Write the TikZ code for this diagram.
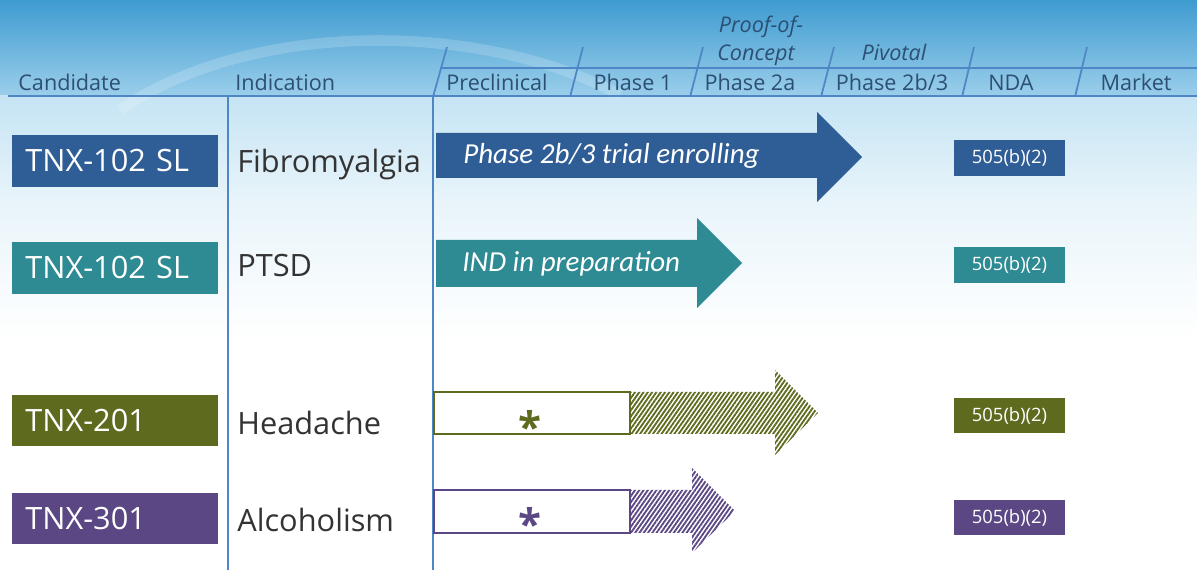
\documentclass[tikz,border=0pt]{standalone}
\usepackage{fontspec}
\setmainfont{Open Sans}
\newfontfamily\arrowfont{Carlito}
\usetikzlibrary{patterns.meta}
\definecolor{cblue}{HTML}{2F5D96}
\definecolor{cteal}{HTML}{2E8A93}
\definecolor{colive}{HTML}{5E6B1E}
\definecolor{cpurple}{HTML}{5B4784}
\definecolor{lineblue}{HTML}{4F86C6}
\definecolor{headtxt}{HTML}{2C4F73}
\definecolor{indtxt}{HTML}{333333}
\definecolor{bgtop}{HTML}{3E9BD0}
\definecolor{bgband}{HTML}{9CCFEB}
\definecolor{bglight}{HTML}{C5E4F4}
\definecolor{bgpale}{HTML}{E8F4FA}
\begin{document}
\begin{tikzpicture}[x=0.02cm,y=-0.02cm,
  hline/.style={draw=lineblue,line width=1.7pt},
  vline/.style={draw=lineblue,line width=1.2pt},
  slash/.style={draw=lineblue,line width=1pt},
  headlbl/.style={text=headtxt,font=\fontsize{12.3}{14}\selectfont,inner sep=0pt,anchor=base},
  headit/.style={headlbl,font=\fontsize{12.3}{14}\selectfont\itshape},
  cand/.style={fill=#1,text=white,font=\fontsize{17.5}{20}\selectfont,
    minimum width=4.12cm,minimum height=1.04cm,inner xsep=0.26cm,inner ysep=0pt,
    text width=3.6cm,align=left,anchor=west},
  ind/.style={text=indtxt,font=\fontsize{17.5}{20}\selectfont,inner sep=0pt,anchor=base west},
  arrowlbl/.style={text=white,font=\arrowfont\itshape\fontsize{16.5}{19}\selectfont,inner sep=0pt,anchor=west},
  nda/.style={fill=#1,text=white,font=\fontsize{10.5}{12}\selectfont,
    minimum width=2.22cm,minimum height=0.72cm,inner sep=0pt},
  star/.style={text=#1,font=\fontsize{24}{26}\selectfont\bfseries,inner sep=0pt},
  openbox/.style={draw=#1,line width=1.6pt,fill=white},
  hatch/.style={pattern={Lines[angle=55,distance=2pt,line width=1.05pt]},pattern color=#1}
]
\useasboundingbox (0,0) rectangle (1197,570);
% background
\fill[top color=bgtop,bottom color=bgband] (0,0) rectangle (1197,97);
\fill[top color=bglight,bottom color=bgpale] (0,96) rectangle (1197,200);
\fill[top color=bgpale,bottom color=white] (0,199) rectangle (1197,340);
\fill[white] (0,339) rectangle (1197,570);
\draw[white,opacity=0.18,line width=6pt] (120,110) .. controls (250,20) and (480,20) .. (620,95);

% header lines
\coordinate (hl0) at (8,96);
\coordinate (hl1) at (1197,96);
\coordinate (ul0) at (440,68);
\coordinate (ul1) at (1197,68);
\draw[hline] (hl0) -- (hl1);
\draw[slash] (ul0) -- (ul1);
\foreach \b/\t [count=\i] in {433/447,570/583,690/703,821/834,962/974,1075/1087}{
  \coordinate (sb\i) at (\b,97);
  \coordinate (st\i) at (\t,47);
  \draw[slash] (sb\i) -- (st\i);
}
% vertical column lines
\coordinate (v1a) at (228,96); \coordinate (v1b) at (228,570);
\coordinate (v2a) at (433,96); \coordinate (v2b) at (433,570);
\draw[vline] (v1a) -- (v1b);
\draw[vline] (v2a) -- (v2b);

% header labels
\node[headlbl,anchor=base west] (hCand) at (18,91) {Candidate};
\node[headlbl,anchor=base west] (hInd) at (235,91) {Indication};
\node[headlbl] (hPre) at (497,91) {Preclinical};
\node[headlbl] (hP1) at (633,91) {Phase 1};
\node[headlbl] (hP2a) at (750,91) {Phase 2a};
\node[headlbl] (hP2b) at (892,91) {Phase 2b/3};
\node[headlbl] (hNDA) at (1011,91) {NDA};
\node[headlbl] (hMkt) at (1136,91) {Market};
\node[headit] (hPoc1) at (761,33) {Proof-of-};
\node[headit] (hPoc2) at (756,61) {Concept};
\node[headit] (hPiv) at (894,61) {Pivotal};

% candidate boxes
\node[cand=cblue] (c1) at (12,161) {TNX-102 SL};
\node[cand=cteal] (c2) at (12,268) {TNX-102 SL};
\node[cand=colive] (c3) at (12,420.5) {TNX-201};
\node[cand=cpurple] (c4) at (12,518.5) {TNX-301};

% indications
\node[ind] (i1) at (237,173) {Fibromyalgia};
\node[ind] (i2) at (237,277) {PTSD};
\node[ind] (i3) at (237,435) {Headache};
\node[ind] (i4) at (237,532) {Alcoholism};

% solid arrows
\fill[cblue] (436,133) -- (817,133) -- (817,112) -- (862,157) -- (817,202) -- (817,178) -- (436,178) -- cycle;
\node[arrowlbl] (a1) at (463,156) {Phase 2b/3 trial enrolling};
\fill[cteal] (436,240) -- (697,240) -- (697,218) -- (742,263) -- (697,308) -- (697,287) -- (436,287) -- cycle;
\node[arrowlbl] (a2) at (462,264) {IND in preparation};

% hatched arrows
\fill[hatch=colive] (630,392) -- (775,392) -- (775,370) -- (818,413) -- (775,455) -- (775,434) -- (630,434) -- cycle;
\draw[openbox=colive] (434,392) rectangle (630,434);
\node[star=colive] (s3) at (530,426) {*};
\fill[hatch=cpurple] (630,490) -- (692,490) -- (692,468) -- (735,511) -- (692,553) -- (692,533) -- (630,533) -- cycle;
\draw[openbox=cpurple] (434,490) rectangle (630,533);
\node[star=cpurple] (s4) at (530,523) {*};

% NDA boxes
\node[nda=cblue] (n1) at (1009.5,158) {505(b)(2)};
\node[nda=cteal] (n2) at (1009.5,265) {505(b)(2)};
\node[nda=colive] (n3) at (1009.5,415.5) {505(b)(2)};
\node[nda=cpurple] (n4) at (1009.5,517.5) {505(b)(2)};
\end{tikzpicture}
\end{document}
